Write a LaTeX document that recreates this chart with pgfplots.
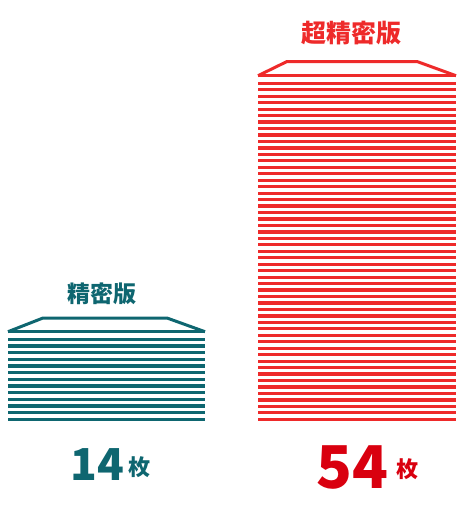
\documentclass[border=0pt]{standalone}
\usepackage{fontspec}
\usepackage{pgfplots}
\usepackage{pgfplotstable}
\pgfplotsset{compat=1.18}
\newfontfamily\cjk{Noto Sans CJK JP}
\definecolor{teal1}{HTML}{0E6670}
\definecolor{red1}{HTML}{EE2A2A}
\definecolor{red2}{HTML}{D9000F}
% sheet index for each stack (k = 1 is the bottom sheet), c = stack centre
\pgfplotstableread{
c k
106.5 1
106.5 2
106.5 3
106.5 4
106.5 5
106.5 6
106.5 7
106.5 8
106.5 9
106.5 10
106.5 11
106.5 12
106.5 13
106.5 14
}\leftsheets
\pgfplotstableread{
c k
357 1
357 2
357 3
357 4
357 5
357 6
357 7
357 8
357 9
357 10
357 11
357 12
357 13
357 14
357 15
357 16
357 17
357 18
357 19
357 20
357 21
357 22
357 23
357 24
357 25
357 26
357 27
357 28
357 29
357 30
357 31
357 32
357 33
357 34
357 35
357 36
357 37
357 38
357 39
357 40
357 41
357 42
357 43
357 44
357 45
357 46
357 47
357 48
357 49
357 50
357 51
357 52
357 53
357 54
}\rightsheets
\begin{document}
\begin{tikzpicture}
\begin{axis}[scale only axis, width=460pt, height=525pt,
  xmin=0, xmax=460, ymin=0, ymax=525, y dir=reverse,
  hide axis, clip=false]
\path (axis cs:0,0) rectangle (axis cs:460,525);
% left stack: 14 sheets
\addplot[draw=none, no markers, forget plot,
  error bars/.cd, x dir=both, x fixed=98.5, error mark=none,
  error bar style={draw=teal1, line width=3.2pt}]
  table[x=c, y expr={ifthenelse(\thisrow{k}==14, 331.7, 419.3-(\thisrow{k}-1)*6.667)}] {\leftsheets};
\addplot[draw=teal1, line width=3pt, mark=none, line join=round]
  coordinates {(8,331.7) (43,318) (167,318) (205,331.7)};
% right stack: 54 sheets
\addplot[draw=none, no markers, forget plot,
  error bars/.cd, x dir=both, x fixed=99, error mark=none,
  error bar style={draw=red1, line width=3.2pt}]
  table[x=c, y expr={ifthenelse(\thisrow{k}==54, 75.7, 419.3-(\thisrow{k}-1)*6.4615)}] {\rightsheets};
\addplot[draw=red1, line width=3pt, mark=none, line join=round]
  coordinates {(258,75.7) (287,61.5) (417,61.5) (456,75.7)};
% labels
\node[font=\cjk\bfseries\fontsize{23}{23}\selectfont, text=teal1] at (axis cs:102,294) {精密版};
\node[font=\cjk\bfseries\fontsize{25}{25}\selectfont, text=red1] at (axis cs:351,33) {超精密版};
\node[anchor=base, inner sep=0pt, font=\cjk\bfseries\fontsize{44}{44}\selectfont, text=teal1] at (axis cs:97,480) {14};
\node[inner sep=0pt, font=\cjk\bfseries\fontsize{22}{22}\selectfont, text=teal1] at (axis cs:139.5,467.5) {枚};
\node[anchor=base, inner sep=0pt, font=\cjk\bfseries\fontsize{59}{59}\selectfont, text=red2] at (axis cs:352,488) {54};
\node[inner sep=0pt, font=\cjk\bfseries\fontsize{22}{22}\selectfont, text=red2] at (axis cs:407,469) {枚};
\end{axis}
\end{tikzpicture}
\end{document}
